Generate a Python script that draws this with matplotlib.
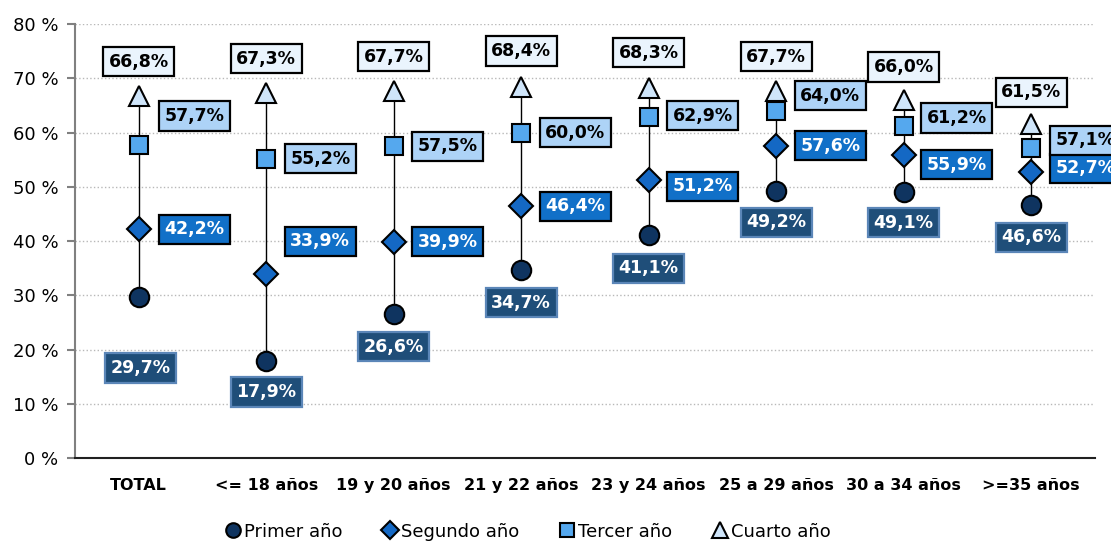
import matplotlib.pyplot as plt
import numpy as np

categorias = ['TOTAL', '<= 18 años', '19 y 20 años', '21 y 22 años',
              '23 y 24 años', '25 a 29 años', '30 a 34 años', '>=35 años']
primer = [29.7, 17.9, 26.6, 34.7, 41.1, 49.2, 49.1, 46.6]
segundo = [42.2, 33.9, 39.9, 46.4, 51.2, 57.6, 55.9, 52.7]
tercer = [57.7, 55.2, 57.5, 60.0, 62.9, 64.0, 61.2, 57.1]
cuarto = [66.8, 67.3, 67.7, 68.4, 68.3, 67.7, 66.0, 61.5]

plt.rcParams['font.family'] = ['DejaVu Sans']

fig = plt.figure(figsize=(11.11, 5.46), dpi=100)
ax = fig.add_axes([0.0675, 0.161, 0.918, 0.795])
x = np.arange(len(categorias))

ax.vlines(x, primer, cuarto, color='black', lw=1, zorder=2)

series = [
    (primer, 'Primer año', 'o', '#0f3460', 14, '#1f4e79', 'white', '#5b86b8'),
    (segundo, 'Segundo año', 'D', '#1468c4', 12, '#1170c8', 'white', 'black'),
    (tercer, 'Tercer año', 's', '#55a8ee', 13, '#add3f7', 'black', 'black'),
    (cuarto, 'Cuarto año', '^', '#cfe5fa', 15, '#eaf4fd', 'black', 'black'),
]

# label offsets in pixels (dx, dy)
offs = {
    'Primer año': [(2, -71), (0, -31), (0, -33), (0, -33), (0, -33), (0, -31), (0, -31), (0, -32)],
    'Segundo año': [(56, 0), (54, 33), (54, 0), (54, 0), (54, -6), (54, 0), (53, -10), (54, 4)],
    'Tercer año': [(56, 29), (54, 0), (54, 0), (54, 0), (54, 1), (54, 15), (53, 8), (54, 8)],
    'Cuarto año': [(0, 34), (0, 34), (0, 34), (0, 36), (0, 35), (0, 34), (0, 33), (0, 32)],
}

for vals, name, mk, col, ms, boxc, txtc, edgec in series:
    ax.plot(x, vals, linestyle='none', marker=mk, markersize=ms, markerfacecolor=col,
            markeredgecolor='black', markeredgewidth=1.5, label=name, zorder=3)
    for i, v in enumerate(vals):
        dx, dy = offs[name][i]
        ax.annotate(f'{v:.1f}%'.replace('.', ','), (x[i], v), xytext=(dx, dy),
                    textcoords='offset pixels', ha='center', va='center',
                    fontsize=12.5, fontweight='bold', color=txtc, annotation_clip=False,
                    bbox=dict(boxstyle='square,pad=0.32', fc=boxc, ec=edgec, lw=1.6),
                    zorder=4)

ax.set_xlim(-0.5, 7.5)
ax.set_ylim(0, 80)
ax.set_yticks(np.arange(0, 81, 10))
ax.set_yticklabels([f'{t} %' for t in range(0, 81, 10)], fontsize=13)
ax.set_xticks(x)
ax.set_xticklabels(categorias, fontsize=11.5, fontweight='bold')
ax.tick_params(axis='x', length=0, pad=14)
ax.tick_params(axis='y', length=6, color='#808080', width=1.5, pad=6)
ax.grid(axis='y', linestyle=':', color='#b8b8b8', lw=1)
ax.set_axisbelow(True)
for s in ['top', 'right']:
    ax.spines[s].set_visible(False)
ax.spines['left'].set_color('#808080')
ax.spines['left'].set_linewidth(1.5)
ax.spines['bottom'].set_color('#202020')
ax.spines['bottom'].set_linewidth(1.5)

fig.legend(loc='lower center', bbox_to_anchor=(0.475, -0.02), ncol=4, frameon=False,
           fontsize=13, handlelength=0.9, handletextpad=0.15, columnspacing=2.2,
           markerscale=0.75)

fig.savefig('out.png', dpi=100)
